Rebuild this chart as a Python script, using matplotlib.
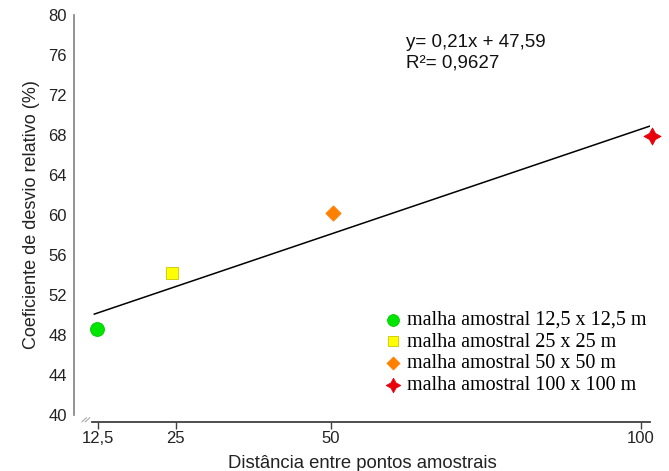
import matplotlib
matplotlib.use("Agg")
import matplotlib.pyplot as plt
import numpy as np

# Sample grid spacing (m) and relative deviation coefficient (%)
grid_labels = ["malha amostral 12,5 x 12,5 m", "malha amostral 25 x 25 m",
               "malha amostral 50 x 50 m", "malha amostral 100 x 100 m"]
distance = [12.3, 24.5, 50.3, 101.7]
cdr = [48.6, 54.2, 60.2, 67.9]
x_ticks = [12.5, 25, 50, 100]
x_tick_labels = ["12,5", "25", "50", "100"]
y_ticks = [40, 44, 48, 52, 56, 60, 64, 68, 72, 76, 80]

# Fitted regression
slope, intercept = 0.21, 47.59
fit_range = [11.9, 101.4]

colors = ["#00e600", "#ffff00", "#ff8000", "#e8000b"]
markers = ["o", "s", "D", (4, 1, 0)]
sizes = [100, 70, 60, 150]
edges = ["#00c800", "#c8c800", "#ff8000", "#e8000b"]

fig = plt.figure(figsize=(6.69, 4.71), dpi=100)
ax = fig.add_axes([92 / 669, 1 - 415 / 471, (650 - 92) / 669, (415 - 15) / 471])

xf = np.array(fit_range)
ax.plot(xf, slope * xf + intercept, color="black", lw=1.1, zorder=2)

for x, y, c, m, s, e, lab in zip(distance, cdr, colors, markers, sizes, edges, grid_labels):
    ax.scatter([x], [y], s=s, c=c, marker=m, edgecolors=e, linewidths=0.6,
               label=lab, zorder=3, clip_on=False)

ax.set_xlim(11.53, 101.45)
ax.set_ylim(40, 80)
ax.set_xticks(x_ticks)
ax.set_xticklabels(x_tick_labels)
ax.set_yticks(y_ticks)

for side in ("top", "right"):
    ax.spines[side].set_visible(False)
ax.spines["left"].set_position(("outward", 13))
ax.spines["bottom"].set_position(("outward", 5))
ax.spines["left"].set_color("#808080")
ax.spines["bottom"].set_color("#404040")
ax.spines["left"].set_linewidth(1.2)
ax.spines["bottom"].set_linewidth(1.3)

ax.tick_params(axis="y", length=0, pad=5, labelsize=12, labelcolor="#222222")
ax.tick_params(axis="x", length=5, width=1, color="#404040", pad=1.5,
               labelsize=12, labelcolor="#222222")
for t in ax.get_xticklabels() + ax.get_yticklabels():
    t.set_fontfamily("Liberation Sans")

ax.set_xlabel("Distância entre pontos amostrais", fontsize=13.3,
              fontfamily="Liberation Sans", color="#222222")
ax.xaxis.set_label_coords(0.485, -0.12, transform=ax.transAxes)
ax.xaxis.label.set_va("center")
ax.set_ylabel("Coeficiente de desvio relativo (%)", fontsize=13,
              fontfamily="Liberation Sans", labelpad=6, color="#222222")

# Axis break mark near the origin
for dx in (0.0, 0.006):
    ax.plot([-0.018 + dx, -0.010 + dx], [-0.017, -0.007], transform=ax.transAxes,
            color="#aaaaaa", lw=0.8, clip_on=False)

ax.text(0.562, 0.905, "y= 0,21x + 47,59\nR²= 0,9627", transform=ax.transAxes,
        fontsize=13.5, fontfamily="Liberation Sans", va="center", ha="left",
        linespacing=1.3, color="#111111")

leg = ax.legend(loc="lower right", bbox_to_anchor=(1.008, 0.03), frameon=False,
                prop={"family": "Liberation Serif", "size": 14.5},
                handletextpad=0.2, labelspacing=0.13, borderaxespad=0.0,
                handlelength=1.0, scatterpoints=1, markerscale=0.85)

fig.savefig("out.png", dpi=100)
